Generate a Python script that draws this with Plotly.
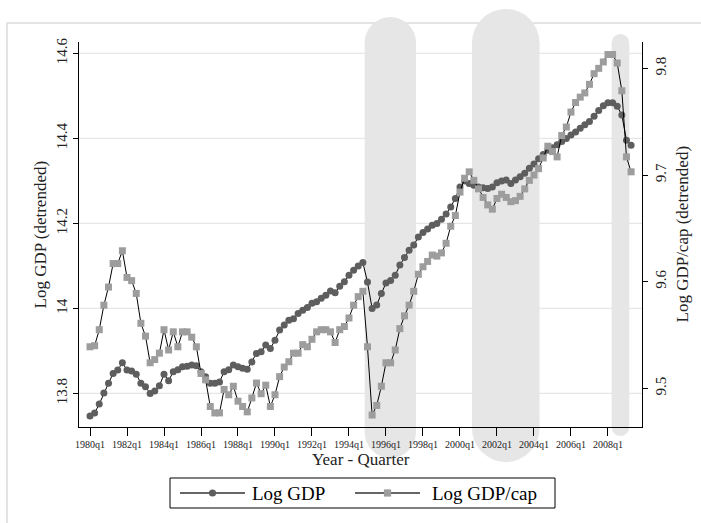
import plotly.graph_objects as go

# Quarterly series, 1980q1 onward
start_year = 1980
log_gdp = [
    13.747, 13.754, 13.775, 13.801, 13.824, 13.847, 13.855, 13.872,
    13.855, 13.853, 13.845, 13.824, 13.816, 13.800, 13.806, 13.818,
    13.845, 13.830, 13.851, 13.856, 13.863, 13.864, 13.867, 13.865,
    13.851, 13.839, 13.824, 13.824, 13.827, 13.851, 13.856, 13.867,
    13.863, 13.859, 13.857, 13.874, 13.894, 13.898, 13.914, 13.906,
    13.925, 13.949, 13.961, 13.972, 13.976, 13.988, 13.996, 14.002,
    14.012, 14.016, 14.024, 14.031, 14.041, 14.037, 14.052, 14.063,
    14.078, 14.090, 14.100, 14.108, 14.062, 14.000, 14.008, 14.035,
    14.060, 14.066, 14.078, 14.102, 14.120, 14.137, 14.149, 14.168,
    14.179, 14.187, 14.196, 14.200, 14.210, 14.222, 14.239, 14.259,
    14.286, 14.300, 14.294, 14.290, 14.286, 14.284, 14.282, 14.286,
    14.296, 14.300, 14.302, 14.294, 14.302, 14.310, 14.318, 14.330,
    14.340, 14.352, 14.362, 14.372, 14.378, 14.385, 14.393, 14.400,
    14.408, 14.415, 14.424, 14.432, 14.440, 14.452, 14.466, 14.477,
    14.484, 14.484, 14.476, 14.455, 14.396, 14.384,
]
log_gdp_cap = [
    9.539, 9.540, 9.555, 9.578, 9.595, 9.617, 9.617, 9.629,
    9.604, 9.601, 9.589, 9.561, 9.549, 9.524, 9.527, 9.533,
    9.555, 9.536, 9.553, 9.539, 9.553, 9.553, 9.548, 9.539,
    9.514, 9.508, 9.483, 9.477, 9.477, 9.499, 9.494, 9.502,
    9.488, 9.483, 9.478, 9.491, 9.505, 9.495, 9.503, 9.483,
    9.494, 9.511, 9.520, 9.525, 9.533, 9.533, 9.541, 9.539,
    9.546, 9.553, 9.555, 9.555, 9.553, 9.543, 9.555, 9.558,
    9.566, 9.578, 9.586, 9.591, 9.539, 9.475, 9.484, 9.502,
    9.524, 9.524, 9.536, 9.556, 9.568, 9.578, 9.591, 9.607,
    9.614, 9.619, 9.625, 9.624, 9.627, 9.636, 9.652, 9.662,
    9.684, 9.697, 9.703, 9.695, 9.687, 9.679, 9.672, 9.668,
    9.678, 9.682, 9.679, 9.675, 9.676, 9.680, 9.687, 9.695,
    9.700, 9.706, 9.716, 9.727, 9.722, 9.717, 9.737, 9.745,
    9.759, 9.768, 9.773, 9.777, 9.785, 9.795, 9.800, 9.806,
    9.813, 9.813, 9.805, 9.779, 9.717, 9.703,
]

# Shaded crisis periods (decimal years)
crisis_start = [1994.85, 2000.65, 2008.20]
crisis_end = [1997.62, 2004.30, 2009.15]

series_names = ["Log GDP", "Log GDP/cap"]
x_tick_years = list(range(1980, 2009, 2))
x_tick_text = [f"{y}q1" for y in x_tick_years]
left_ticks = [13.8, 14.0, 14.2, 14.4, 14.6]
left_tick_text = ["13.8", "14", "14.2", "14.4", "14.6"]
right_ticks = [9.5, 9.6, 9.7, 9.8]
right_tick_text = ["9.5", "9.6", "9.7", "9.8"]

quarters = [start_year + k / 4 for k in range(len(log_gdp))]

# ---- layout geometry (pixels) ----
W, H = 701, 523
L, R, T, B = 79, 642, 42, 427
x_range = [1979.405, 2009.84]
left_range = [13.721, 14.627]
right_range = [9.4638, 9.8247]
px_per_year = (R - L) / (x_range[1] - x_range[0])


def paper_y(py):
    return (B - py) / (B - T)


def paper_x(px):
    return (px - L) / (R - L)


FONT = "Liberation Serif"
BAND = "#e6e6e6"
GRID = "#e6e6e6"
GDP_COLOR = "#5e5e5e"
CAP_COLOR = "#9d9d9d"

shapes = []
# outer graph-region frame
shapes.append(dict(type="rect", xref="paper", yref="paper",
                   x0=paper_x(7), x1=paper_x(712), y0=paper_y(535), y1=paper_y(23),
                   line=dict(color="#e4e4e4", width=2), fillcolor="rgba(0,0,0,0)",
                   layer="below"))
# horizontal grid lines on the left-axis ticks
for v in left_ticks:
    shapes.append(dict(type="line", xref="paper", yref="y", x0=0, x1=1, y0=v, y1=v,
                       line=dict(color=GRID, width=1.3), layer="below"))
# rounded vertical bands
band_extent_px = [(17, 458), (9, 462), (34, 436)]
for x0, x1, (top, bot) in zip(crisis_start, crisis_end, band_extent_px):
    r = (x1 - x0) * px_per_year / 2
    common = dict(xref="x", yref="paper", fillcolor=BAND, line=dict(width=0), layer="below")
    shapes.append(dict(type="rect", x0=x0, x1=x1, y0=paper_y(bot - r), y1=paper_y(top + r), **common))
    shapes.append(dict(type="circle", x0=x0, x1=x1, y0=paper_y(top + 2 * r), y1=paper_y(top), **common))
    shapes.append(dict(type="circle", x0=x0, x1=x1, y0=paper_y(bot), y1=paper_y(bot - 2 * r), **common))

# legend box below the axis title
LEG_L, LEG_R, LEG_T, LEG_B = 170, 555, 478, 508
leg_mid = (LEG_T + LEG_B) / 2
shapes.append(dict(type="rect", xref="paper", yref="paper",
                   x0=paper_x(LEG_L), x1=paper_x(LEG_R), y0=paper_y(LEG_B), y1=paper_y(LEG_T),
                   line=dict(color="black", width=1), fillcolor="white", layer="above"))
legend_items = [
    (180, 245, 250, "circle", GDP_COLOR, series_names[0]),
    (355, 420, 430, "square", CAP_COLOR, series_names[1]),
]
legend_annotations = []
for lx0, lx1, tx, kind, col, label in legend_items:
    shapes.append(dict(type="line", xref="paper", yref="paper",
                       x0=paper_x(lx0), x1=paper_x(lx1), y0=paper_y(leg_mid), y1=paper_y(leg_mid),
                       line=dict(color="#333", width=1.3), layer="above"))
    cx, half = (lx0 + lx1) / 2, 3.6
    shapes.append(dict(type="circle" if kind == "circle" else "rect", xref="paper", yref="paper",
                       x0=paper_x(cx - half), x1=paper_x(cx + half),
                       y0=paper_y(leg_mid + half), y1=paper_y(leg_mid - half),
                       fillcolor=col, line=dict(width=0), layer="above"))
    legend_annotations.append(dict(text=label, xref="paper", yref="paper", x=paper_x(tx),
                                   y=paper_y(leg_mid), xanchor="left", yanchor="middle",
                                   showarrow=False,
                                   font=dict(family=FONT, size=19, color="black")))

fig = go.Figure()
fig.add_trace(go.Scatter(
    x=quarters, y=log_gdp, name=series_names[0], mode="lines+markers", yaxis="y",
    line=dict(color="black", width=1),
    marker=dict(symbol="circle", size=7, color=GDP_COLOR, line=dict(width=0)),
))
fig.add_trace(go.Scatter(
    x=quarters, y=log_gdp_cap, name=series_names[1], mode="lines+markers", yaxis="y2",
    line=dict(color="black", width=1),
    marker=dict(symbol="square", size=7, color=CAP_COLOR, line=dict(width=0)),
))

axis_font = dict(family=FONT, size=15, color="#222")
fig.update_layout(
    width=W, height=H,
    margin=dict(l=L, r=W - R, t=T, b=H - B, pad=0),
    paper_bgcolor="white", plot_bgcolor="rgba(0,0,0,0)",
    font=dict(family=FONT, color="black"),
    showlegend=False,
    shapes=shapes,
    xaxis=dict(range=x_range, tickvals=x_tick_years, ticktext=x_tick_text,
               tickfont=dict(family=FONT, size=10, color="#222"), tickangle=0,
               showgrid=False, zeroline=False, showline=True, linecolor="black",
               linewidth=1, ticks="outside", ticklen=8, tickcolor="black", tickwidth=1),
    yaxis=dict(range=left_range, tickvals=left_ticks, ticktext=left_tick_text,
               tickfont=axis_font, tickangle=-90, showgrid=False, zeroline=False,
               showline=True, linecolor="black", linewidth=1, ticks="outside",
               ticklen=5, tickcolor="black", tickwidth=1),
    yaxis2=dict(range=right_range, tickvals=right_ticks, ticktext=right_tick_text,
                overlaying="y", side="right", tickfont=axis_font, tickangle=-90,
                showgrid=False, zeroline=False, showline=True, linecolor="black",
                linewidth=1, ticks="outside", ticklen=5, tickcolor="black", tickwidth=1),
    annotations=[
        dict(text="Log GDP (detrended)", xref="paper", yref="paper", x=paper_x(40), y=0.5,
             textangle=-90, showarrow=False, font=dict(family=FONT, size=17, color="#222"),
             xanchor="center", yanchor="middle"),
        dict(text="Log GDP/cap (detrended)", xref="paper", yref="paper", x=paper_x(682), y=0.5,
             textangle=-90, showarrow=False, font=dict(family=FONT, size=17, color="#222"),
             xanchor="center", yanchor="middle"),
        dict(text="Year - Quarter", xref="paper", yref="paper", x=0.5, y=paper_y(460),
             showarrow=False, font=dict(family=FONT, size=17, color="#222"),
             xanchor="center", yanchor="middle"),
    ] + legend_annotations,
)

fig.write_html("out.html")
